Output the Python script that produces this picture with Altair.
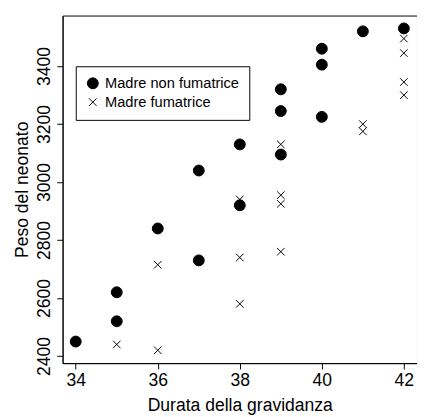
import altair as alt
import pandas as pd

weeks_non = [34, 35, 35, 36, 37, 37, 38, 38, 39, 39, 39, 40, 40, 40, 41, 42]
weight_non = [2450, 2520, 2620, 2840, 2730, 3040, 2920, 3130, 3095, 3245, 3320, 3225, 3405, 3460, 3520, 3530]
weeks_smk = [35, 36, 36, 38, 38, 38, 39, 39, 39, 39, 41, 41, 42, 42, 42, 42]
weight_smk = [2440, 2420, 2715, 2580, 2740, 2940, 2760, 2925, 2955, 3130, 3175, 3200, 3300, 3345, 3445, 3495]
groups = ["Madre non fumatrice", "Madre fumatrice"]
x_ticks = [34, 36, 38, 40, 42]
y_ticks = [2400, 2600, 2800, 3000, 3200, 3400]

df = pd.DataFrame({
    "durata": weeks_non + weeks_smk,
    "peso": weight_non + weight_smk,
    "gruppo": [groups[0]] * len(weeks_non) + [groups[1]] * len(weeks_smk),
})

cross = "M-1,-1L1,1M-1,1L1,-1"
FONT = "Liberation Sans"

chart = alt.Chart(df).mark_point(
    filled=False, strokeWidth=1, opacity=1
).encode(
    x=alt.X("durata:Q",
            scale=alt.Scale(domain=[33.68, 42.32], nice=False, zero=False),
            axis=alt.Axis(values=x_ticks, title="Durata della gravidanza", format="d",
                          labelPadding=3, titlePadding=8)),
    y=alt.Y("peso:Q",
            scale=alt.Scale(domain=[2375.6, 3574.4], nice=False, zero=False),
            axis=alt.Axis(values=y_ticks, title="Peso del neonato", format="d",
                          labelAngle=270, labelAlign="center", labelBaseline="bottom",
                          labelPadding=3, titlePadding=5)),
    shape=alt.Shape("gruppo:N", scale=alt.Scale(domain=groups, range=["circle", cross]),
                    legend=alt.Legend(title=None)),
    fill=alt.Fill("gruppo:N", scale=alt.Scale(domain=groups, range=["black", "transparent"]),
                  legend=alt.Legend(title=None)),
    stroke=alt.Stroke("gruppo:N", scale=alt.Scale(domain=groups, range=["black", "black"]),
                      legend=alt.Legend(title=None)),
    size=alt.Size("gruppo:N", scale=alt.Scale(domain=groups, range=[125, 60]),
                  legend=alt.Legend(title=None)),
).properties(
    width=363.5,
    height=356.5,
    padding={"left": 56, "top": 2.5, "right": 0, "bottom": 50},
    autosize=alt.AutoSizeParams(type="none"),
).configure_view(
    stroke="black", strokeWidth=1
).configure_axis(
    grid=False, domainColor="black", tickColor="black", labelColor="black",
    titleColor="black", labelFont=FONT, titleFont=FONT, labelFontSize=18,
    titleFontSize=18, titleFontWeight="normal", tickSize=6, domainWidth=1, tickWidth=1
).configure_legend(
    orient="none", legendX=13.5, legendY=52, padding=10, strokeColor="black",
    fillColor="white", labelFont=FONT, labelFontSize=15, labelColor="black",
    rowPadding=3.3, labelOffset=5, symbolStrokeWidth=1
)

chart.save("out.html", embed_options={"renderer": "svg", "actions": False})
